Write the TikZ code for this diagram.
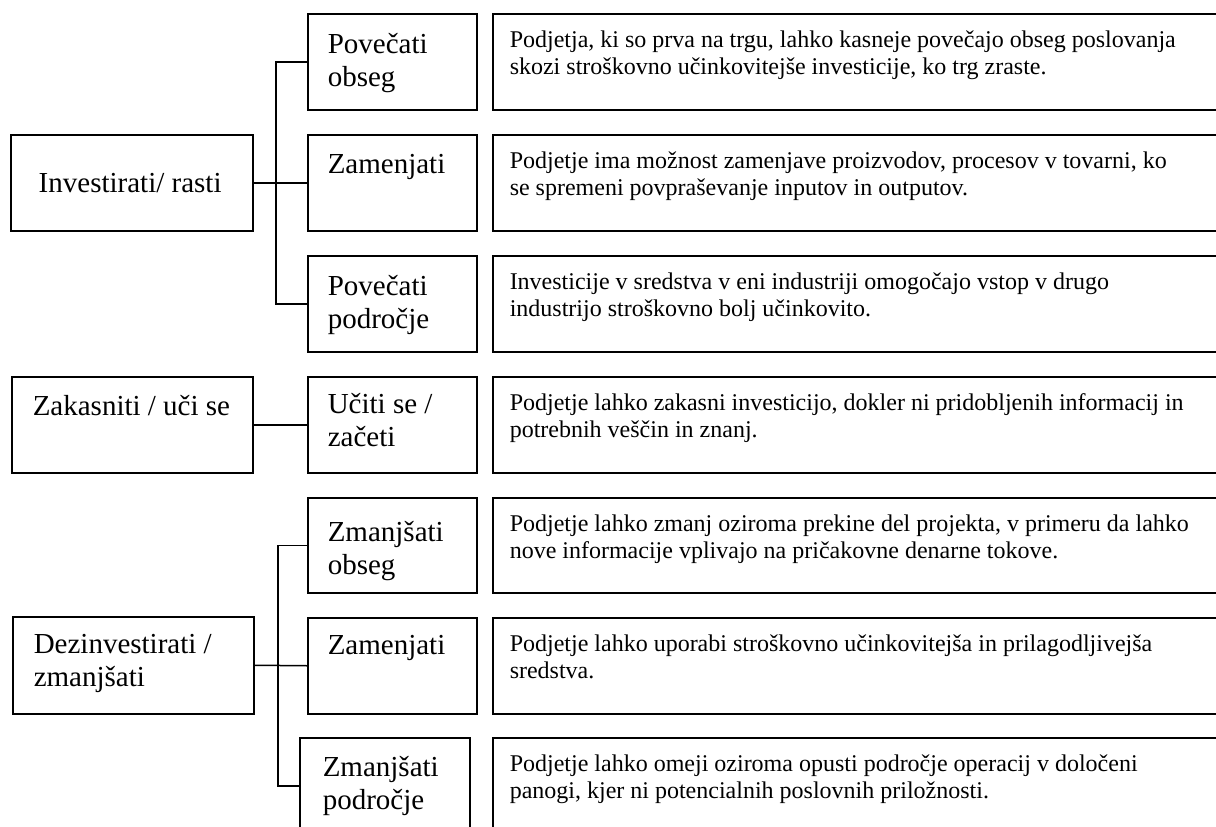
\documentclass[tikz,border=0pt]{standalone}
\usepackage{fontspec}
\setmainfont{Liberation Serif}

% \cellbox{width}{height}{first-baseline drop}{text}: top-aligned cell contents
\newcommand{\cellbox}[4]{\parbox[c][#2][t]{#1}{\raggedright\rule{0pt}{#3}#4}}
\newcommand{\bigtext}{\fontsize{29}{33}\selectfont}
\newcommand{\smalltext}{\fontsize{24}{26.5}\selectfont}

\tikzset{
  cell/.style={draw, line width=1.5pt, rectangle, anchor=north west,
    inner ysep=0pt, inner xsep=0pt},
  link/.style={line width=1.5pt, line cap=rect}
}

\begin{document}
\begin{tikzpicture}[x=1pt, y=-1pt]
\useasboundingbox (0,0) rectangle (1216,827);

% ---- left column: main options
\node[cell] (inv) at (10,134)
  {\hspace{28pt}\cellbox{214pt}{96pt}{58pt}{\bigtext Investirati/ rasti}};
\node[cell] (zak) at (11,376)
  {\hspace{21pt}\cellbox{220pt}{96pt}{39pt}{\bigtext Zakasniti / uči se}};
\node[cell] (dez) at (12,616)
  {\hspace{21pt}\cellbox{220pt}{97pt}{37pt}{\bigtext Dezinvestirati /\\zmanjšati}};

% ---- middle column: sub-options
\node[cell] (m1) at (307,13)
  {\hspace{20pt}\cellbox{149pt}{96pt}{40pt}{\bigtext Povečati\\obseg}};
\node[cell] (m2) at (307,134)
  {\hspace{20pt}\cellbox{149pt}{96pt}{39pt}{\bigtext Zamenjati}};
\node[cell] (m3) at (307,255)
  {\hspace{20pt}\cellbox{149pt}{96pt}{40pt}{\bigtext Povečati\\področje}};
\node[cell] (m4) at (307,376)
  {\hspace{20pt}\cellbox{149pt}{96pt}{37pt}{\bigtext Učiti se /\\začeti}};
\node[cell] (m5) at (307,497)
  {\hspace{20pt}\cellbox{149pt}{95pt}{44pt}{\bigtext Zmanjšati\\obseg}};
\node[cell] (m6) at (307,617)
  {\hspace{20pt}\cellbox{149pt}{96pt}{37pt}{\bigtext Zamenjati}};
\node[cell] (m7) at (299,737)
  {\hspace{23pt}\cellbox{147pt}{96pt}{39pt}{\bigtext Zmanjšati\\področje}};

% ---- right column: descriptions
\node[cell] (r1) at (492,13)
  {\hspace{17pt}\cellbox{740pt}{96pt}{34pt}{\smalltext Podjetja, ki so prva na trgu, lahko kasneje povečajo obseg poslovanja\\skozi stroškovno učinkovitejše investicije, ko trg zraste.}};
\node[cell] (r2) at (492,134)
  {\hspace{17pt}\cellbox{740pt}{96pt}{34pt}{\smalltext Podjetje ima možnost zamenjave proizvodov, procesov v tovarni, ko\\se spremeni povpraševanje inputov in outputov.}};
\node[cell] (r3) at (492,255)
  {\hspace{17pt}\cellbox{740pt}{96pt}{34pt}{\smalltext Investicije v sredstva v eni industriji omogočajo vstop v drugo\\industrijo stroškovno bolj učinkovito.}};
\node[cell] (r4) at (492,376)
  {\hspace{17pt}\cellbox{740pt}{96pt}{34pt}{\smalltext Podjetje lahko zakasni investicijo, dokler ni pridobljenih informacij in\\potrebnih veščin in znanj.}};
\node[cell] (r5) at (492,497)
  {\hspace{17pt}\cellbox{740pt}{95pt}{34pt}{\smalltext Podjetje lahko zmanj oziroma prekine del projekta, v primeru da lahko\\nove informacije vplivajo na pričakovne denarne tokove.}};
\node[cell] (r6) at (492,617)
  {\hspace{17pt}\cellbox{740pt}{96pt}{34pt}{\smalltext Podjetje lahko uporabi stroškovno učinkovitejša in prilagodljivejša\\sredstva.}};
\node[cell] (r7) at (492,737)
  {\hspace{17pt}\cellbox{740pt}{96pt}{34pt}{\smalltext Podjetje lahko omeji oziroma opusti področje operacij v določeni\\panogi, kjer ni potencialnih poslovnih priložnosti.}};

% ---- connectors
\coordinate (tv) at (276,0);
\coordinate (bv) at (278,0);
\draw[link] (inv.east) -- (m2.west);
\draw[link] (m1.west) -- (m1.west -| tv) -- (m3.west -| tv) -- (m3.west);
\draw[link] (zak.east) -- (m4.west);
\draw[link] (dez.east) -- (m6.west);
\draw[link] (m5.west) -- (m5.west -| bv) -- (m7.west -| bv) -- (m7.west);
\end{tikzpicture}
\end{document}
